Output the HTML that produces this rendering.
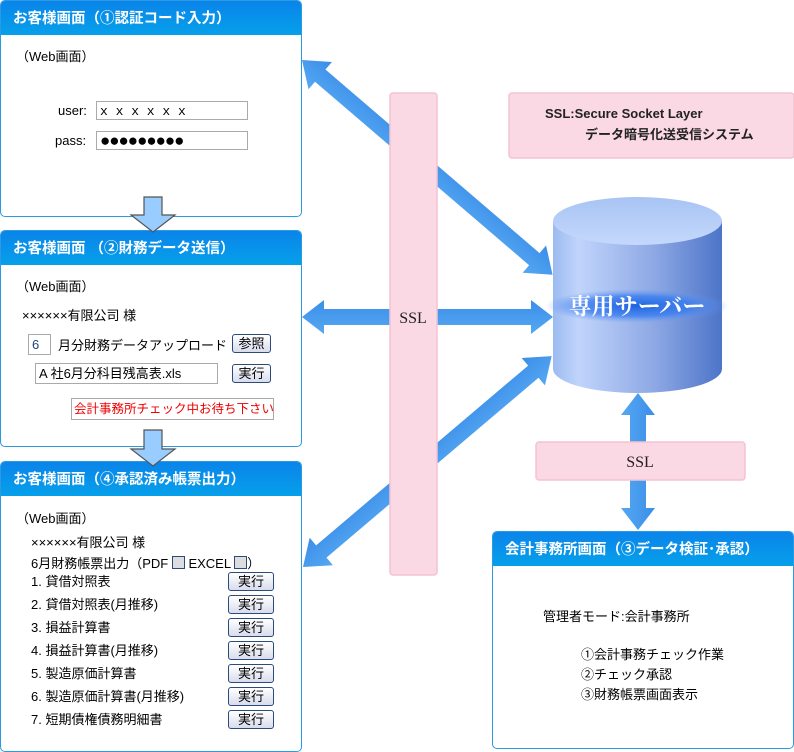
<!DOCTYPE html>
<html><head><meta charset="utf-8"><style>
body{margin:0;width:794px;height:752px;position:relative;background:#fff;font-family:"Liberation Sans","Noto Sans CJK JP",sans-serif;font-size:13px;color:#000;overflow:hidden}
.a{position:absolute}
.p{position:absolute;border:1px solid #2a9be0;border-radius:5px;background:#fff;overflow:hidden}
.h{height:34px;background:linear-gradient(#0a84ea,#06a0ea);color:#fff;font-weight:bold;font-size:14.5px;line-height:36px;padding-left:12px;white-space:nowrap}
.in{position:absolute;border:1px solid #aaa;background:#fff;height:19px;line-height:19px;padding-left:3px;box-sizing:border-box;white-space:nowrap;overflow:hidden}
.bt{position:absolute;border:1px solid #2c4a7a;border-radius:3px;background:linear-gradient(#fff,#d8dcec);text-align:center;font-size:13px;line-height:17px;height:19px;box-sizing:border-box}
.t{position:absolute;white-space:nowrap}
.cb{display:inline-block;width:11px;height:11px;border:1px solid #2c4a7a;background:#ddd;vertical-align:-1px}
</style></head><body>
<svg class="a" style="left:0;top:0" width="794" height="752">
<defs>
<linearGradient id="ar" x1="0" y1="0" x2="0" y2="1"><stop offset="0" stop-color="#3a8ee8"/><stop offset="1" stop-color="#56a8f2"/></linearGradient>
<linearGradient id="cy" x1="0" y1="0" x2="1" y2="0"><stop offset="0" stop-color="#9cbaf0"/><stop offset="0.15" stop-color="#c0d4fb"/><stop offset="0.6" stop-color="#8ea8e4"/><stop offset="1" stop-color="#4c74c8"/></linearGradient>
<linearGradient id="ct" x1="0" y1="0" x2="0" y2="1"><stop offset="0" stop-color="#a8c4f4"/><stop offset="1" stop-color="#c4d8fc"/></linearGradient>
<radialGradient id="gl"><stop offset="0" stop-color="#1d63e0"/><stop offset="0.6" stop-color="#3a7ef0" stop-opacity="0.8"/><stop offset="1" stop-color="#6a9cf4" stop-opacity="0"/></radialGradient>
</defs>
<g fill="url(#ar)">
<polygon transform="translate(302,60) rotate(40.6)" points="0,0 24,-18 24,-8 306,-8 306,-18 330,0 306,18 306,8 24,8 24,18"/>
<polygon transform="translate(303,567) rotate(-40.3)" points="0,0 24,-18 24,-8 302,-8 302,-18 326,0 302,18 302,8 24,8 24,18"/>
<polygon transform="translate(302,317)" points="0,0 22,-17 22,-8 229,-8 229,-17 251,0 229,17 229,8 22,8 22,17"/>
<polygon transform="translate(638,393) rotate(90)" points="0,0 22,-17 22,-8 115,-8 115,-17 137,0 115,17 115,8 22,8 22,17"/>
</g>
<rect x="390" y="93" width="47" height="482" rx="3" fill="#fad9e4" stroke="#f3c2d3" stroke-width="1.5"/>
<rect x="509" y="93" width="285" height="65" rx="3" fill="#fad9e4" stroke="#f3c2d3" stroke-width="1.5"/>
<rect x="536" y="442" width="209" height="38" rx="3" fill="#fad9e4" stroke="#f3c2d3" stroke-width="1.5"/>
<path d="M553,221 L553,369 A84.5,24 0 0 0 722,369 L722,221 Z" fill="url(#cy)"/>
<ellipse cx="637.5" cy="221" rx="84.5" ry="24" fill="url(#ct)"/>
<ellipse cx="637" cy="306" rx="92" ry="17" fill="url(#gl)"/>
<text x="637" y="314" text-anchor="middle" font-family="Liberation Serif,Noto Serif CJK SC,serif" font-size="23" font-weight="bold" fill="#fff">専用サーバー</text>
<text x="413" y="323" text-anchor="middle" font-family="Liberation Serif,serif" font-size="16" fill="#222">SSL</text>
<text x="640" y="467" text-anchor="middle" font-family="Liberation Serif,serif" font-size="16" fill="#222">SSL</text>
</svg>
<div class="t" style="left:545px;top:106px;font-size:13px;font-weight:bold;color:#222">SSL:Secure Socket Layer</div>
<div class="t" style="left:585px;top:124px;font-size:13px;font-weight:bold;color:#222">データ暗号化送受信システム</div>

<div class="p" style="left:0;top:0;width:300px;height:215px"><div class="h">お客様画面（①認証コード入力）</div>
<div class="t" style="left:15px;top:45px">（Web画面）</div>
<div class="t" style="left:57px;top:102px">user:</div>
<div class="in" style="left:95px;top:100px;width:152px;font-family:'Liberation Mono',monospace;font-size:13px">x x x x x x</div>
<div class="t" style="left:54px;top:132px">pass:</div>
<div class="in" style="left:95px;top:130px;width:152px;font-size:17px;line-height:17px;letter-spacing:-1px">●●●●●●●●●</div>
</div>

<div class="p" style="left:0;top:230px;width:300px;height:215px"><div class="h">お客様画面 （②財務データ送信）</div>
<div class="t" style="left:15px;top:45px">（Web画面）</div>
<div class="t" style="left:21px;top:74px">××××××有限公司 様</div>
<div class="in" style="left:27px;top:103px;width:23px;height:21px;color:#247">6</div>
<div class="t" style="left:57px;top:104px">月分財務データアップロード</div>
<div class="bt" style="left:231px;top:103px;width:39px">参照</div>
<div class="in" style="left:34px;top:132px;width:183px;height:21px">A 社6月分科目残高表.xls</div>
<div class="bt" style="left:231px;top:133px;width:39px">実行</div>
<div class="in" style="left:70px;top:167px;width:203px;height:22px;color:#e00;line-height:20px;padding-left:2px;font-size:12.5px">会計事務所チェック中お待ち下さい</div>
</div>

<div class="p" style="left:0;top:461px;width:300px;height:289px"><div class="h">お客様画面（④承認済み帳票出力）</div>
<div class="t" style="left:15px;top:46px">（Web画面）</div>
<div class="t" style="left:30px;top:70px">××××××有限公司 様</div>
<div class="t" style="left:30px;top:91px">6月財務帳票出力（PDF <span class="cb"></span> EXCEL <span class="cb"></span>）</div>
<div class="t" style="left:30px;top:108px;line-height:23px">1. 貸借対照表<br>2. 貸借対照表(月推移)<br>3. 損益計算書<br>4. 損益計算書(月推移)<br>5. 製造原価計算書<br>6. 製造原価計算書(月推移)<br>7. 短期債権債務明細書</div>
<div class="bt" style="left:227px;top:110px;width:46px">実行</div>
<div class="bt" style="left:227px;top:133px;width:46px">実行</div>
<div class="bt" style="left:227px;top:156px;width:46px">実行</div>
<div class="bt" style="left:227px;top:179px;width:46px">実行</div>
<div class="bt" style="left:227px;top:202px;width:46px">実行</div>
<div class="bt" style="left:227px;top:225px;width:46px">実行</div>
<div class="bt" style="left:227px;top:248px;width:46px">実行</div>
</div>

<div class="p" style="left:492px;top:531px;width:300px;height:216px"><div class="h">会計事務所画面（③データ検証･承認）</div>
<div class="t" style="left:50px;top:74px">管理者モード:会計事務所</div>
<div class="t" style="left:88px;top:113px;line-height:20px">①会計事務チェック作業<br>②チェック承認<br>③財務帳票画面表示</div>
</div>

<svg class="a" style="left:0;top:0" width="300" height="752">
<g fill="#99ccff" stroke="#555" stroke-width="1.2">
<polygon points="144,197 162,197 162,215 175,215 153,232 131,215 144,215"/>
<polygon points="144,430 162,430 162,449 175,449 153,466 131,449 144,449"/>
</g>
</svg>
</body></html>
